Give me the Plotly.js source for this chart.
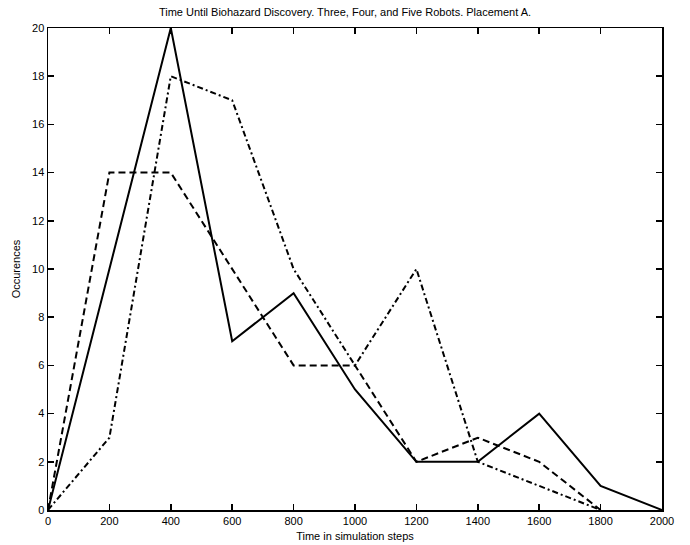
<!DOCTYPE html>
<html><head><meta charset="utf-8">
<script src="https://cdn.plot.ly/plotly-3.0.1.min.js"></script>
<style>html,body{margin:0;padding:0;background:#fff}#chart{width:690px;height:545px}</style>
</head><body><div id="chart"></div>
<script>
var steps = [0, 200, 400, 600, 800, 1000, 1200, 1400, 1600, 1800, 2000];
var seriesSolid = [0, 10, 20, 7, 9, 5, 2, 2, 4, 1, 0];
var stepsB = [0, 200, 400, 600, 800, 1000, 1200, 1400, 1600, 1800];
var seriesDash = [0, 14, 14, 10, 6, 6, 2, 3, 2, 0];
var seriesDashDot = [0, 3, 18, 17, 10, 6, 10, 2, 1, 0];
var xTicks = [0, 200, 400, 600, 800, 1000, 1200, 1400, 1600, 1800, 2000];
var yTicks = [0, 2, 4, 6, 8, 10, 12, 14, 16, 18, 20];

var font = {family: 'Liberation Sans, Arial, sans-serif', size: 11, color: '#000'};
var traces = [
  {x: steps, y: seriesSolid, mode: 'lines', line: {color: '#000', width: 2, dash: 'solid'}},
  {x: stepsB, y: seriesDash, mode: 'lines', line: {color: '#000', width: 2, dash: '7px,4px'}},
  {x: stepsB, y: seriesDashDot, mode: 'lines', line: {color: '#000', width: 2, dash: '6px,3px,2px,3px'}}
];
var axisCommon = {
  showgrid: false, zeroline: false, showline: true, linecolor: '#000', linewidth: 1.5,
  mirror: 'allticks', ticks: 'inside', ticklen: 6, tickwidth: 1.5, tickcolor: '#000',
  tickfont: font
};
var layout = {
  width: 690, height: 545,
  margin: {l: 48, r: 28, t: 28, b: 35},
  paper_bgcolor: '#fff', plot_bgcolor: '#fff',
  showlegend: false,
  font: font,
  title: {text: 'Time Until Biohazard Discovery. Three, Four, and Five Robots. Placement A.', font: {family: 'Liberation Sans, Arial, sans-serif', size: 11, color: '#000'}, x: 0.5, xanchor: 'center', y: 0.985, yanchor: 'top'},
  xaxis: Object.assign({}, axisCommon, {range: [0, 2000], tickvals: xTicks, ticktext: xTicks.map(String),
    title: {text: 'Time in simulation steps', font: font, standoff: 6}}),
  yaxis: Object.assign({}, axisCommon, {range: [0, 20], tickvals: yTicks, ticktext: yTicks.map(String),
    title: {text: 'Occurences', font: font, standoff: 9}})
};
Plotly.newPlot('chart', traces, layout, {displayModeBar: false, staticPlot: true});
</script></body></html>
